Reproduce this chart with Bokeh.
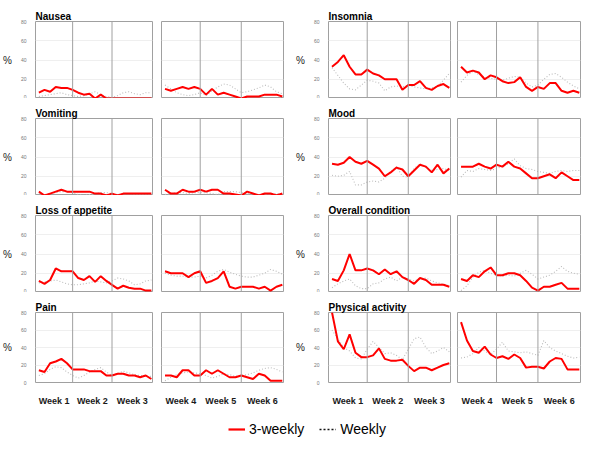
from bokeh.plotting import figure
from bokeh.layouts import row, column
from bokeh.models import Range1d, FixedTicker, Span, Legend, LegendItem
from bokeh.embed import file_html
from bokeh.resources import INLINE

# ---------------- data ----------------
days_a = list(range(1, 22))      # weeks 1-3 (daily points)
days_b = list(range(22, 43))     # weeks 4-6
week_bounds_a = [7, 14]
week_bounds_b = [28, 35]
week_labels_a = ["Week 1", "Week 2", "Week 3"]
week_labels_b = ["Week 4", "Week 5", "Week 6"]
y_ticks = [0, 20, 40, 60, 80]
series_names = ["3-weekly", "Weekly"]

nausea_3weekly = [6, 9, 7, 12, 11, 11, 9, 6, 4, 5, 0, 4, 0, 0, 0, 0, 0, 0, 0, 0, 0,
                  10, 8, 10, 12, 10, 12, 10, 4, 10, 4, 6, 4, 2, 0, 2, 2, 2, 4, 4, 4, 2]
nausea_weekly = [2, 3, 4, 5, 6, 4, 3, 2, 3, 5, 7, 4, 2, 1, 3, 6, 7, 5, 4, 6, 6,
                 14, 10, 6, 4, 3, 4, 6, 3, 8, 12, 15, 14, 10, 6, 7, 9, 11, 14, 12, 7, 5]

insomnia_3weekly = [33, 38, 45, 33, 25, 25, 30, 26, 24, 20, 20, 20, 9, 14, 14, 18, 11, 9, 13, 15, 11,
                    33, 27, 29, 27, 20, 24, 22, 18, 16, 17, 22, 12, 8, 12, 10, 16, 16, 8, 6, 8, 6]
insomnia_weekly = [32, 24, 16, 10, 9, 14, 19, 18, 16, 8, 12, 13, 12, 14, 12, 11, 10, 11, 13, 19, 26,
                   17, 24, 28, 25, 22, 21, 20, 19, 21, 23, 22, 16, 12, 14, 20, 25, 26, 22, 17, 13, 10]

vomiting_3weekly = [4, 0, 2, 4, 6, 4, 4, 4, 4, 4, 2, 2, 0, 2, 0, 2, 2, 2, 2, 2, 2,
                    6, 2, 2, 6, 4, 4, 6, 4, 6, 6, 2, 2, 1, 0, 4, 2, 0, 2, 2, 0, 2]
vomiting_weekly = [2, 1, 2, 3, 4, 4, 3, 1, 0, 1, 2, 3, 3, 2, 1, 2, 2, 1, 1, 1, 1,
                   1, 2, 3, 3, 2, 3, 3, 3, 2, 1, 4, 4, 4, 3, 2, 2, 1, 1, 2, 2, 2]

mood_3weekly = [33, 32, 34, 40, 35, 33, 36, 32, 28, 20, 24, 29, 27, 20, 26, 32, 30, 24, 32, 23, 28,
                30, 30, 30, 33, 30, 28, 32, 30, 35, 30, 28, 23, 18, 18, 20, 22, 18, 24, 20, 16, 16]
mood_weekly = [21, 20, 21, 25, 11, 11, 14, 15, 14, 18, 25, 30, 20, 19, 28, 33, 29, 26, 27, 28, 26,
               19, 26, 25, 28, 27, 26, 28, 30, 33, 38, 31, 28, 27, 25, 24, 23, 25, 26, 25, 26, 26]

appetite_3weekly = [12, 9, 13, 25, 22, 22, 22, 15, 13, 17, 11, 17, 12, 8, 4, 7, 5, 4, 4, 2, 2,
                    22, 20, 20, 20, 16, 20, 22, 10, 12, 15, 22, 6, 4, 6, 6, 6, 4, 6, 2, 6, 8]
appetite_weekly = [10, 11, 12, 13, 11, 9, 8, 8, 9, 10, 12, 11, 10, 12, 15, 14, 12, 8, 9, 12, 13,
                   20, 18, 17, 17, 16, 16, 17, 15, 18, 22, 24, 21, 19, 17, 16, 16, 18, 20, 24, 22, 19]

overall_3weekly = [14, 12, 23, 40, 23, 23, 25, 23, 19, 24, 19, 22, 16, 13, 9, 15, 13, 8, 8, 8, 6,
                   14, 12, 18, 16, 22, 26, 18, 18, 20, 20, 18, 12, 5, 2, 6, 6, 8, 10, 4, 4, 4]
overall_weekly = [5, 9, 12, 14, 7, 4, 4, 9, 10, 14, 16, 12, 16, 14, 12, 14, 15, 12, 10, 9, 7,
                  2, 7, 16, 21, 23, 20, 18, 17, 18, 17, 20, 23, 19, 14, 16, 18, 22, 27, 22, 20, 19]

pain_3weekly = [14, 12, 22, 24, 27, 22, 15, 15, 15, 13, 13, 13, 8, 8, 10, 10, 8, 8, 6, 8, 4,
                8, 8, 6, 14, 14, 8, 8, 14, 10, 14, 10, 6, 6, 8, 6, 4, 10, 8, 2, 2, 2]
pain_weekly = [8, 10, 15, 18, 17, 12, 8, 5, 8, 12, 15, 17, 12, 8, 10, 13, 11, 9, 8, 7, 7,
               2, 6, 9, 11, 12, 11, 10, 8, 5, 7, 10, 9, 7, 8, 9, 11, 14, 16, 17, 15, 12]

physical_3weekly = [80, 47, 38, 55, 34, 29, 29, 31, 39, 27, 25, 25, 26, 19, 13, 17, 17, 14, 17, 20, 22,
                    69, 48, 36, 34, 41, 32, 28, 30, 27, 32, 28, 17, 18, 18, 16, 24, 28, 27, 15, 15, 15]
physical_weekly = [60, 50, 40, 36, 28, 27, 38, 47, 40, 33, 34, 31, 26, 38, 50, 52, 40, 33, 36, 40, 35,
                   28, 29, 33, 40, 36, 32, 38, 46, 36, 35, 34, 35, 33, 31, 48, 40, 36, 33, 30, 28, 29]

grid_rows = [
    [("Nausea", nausea_3weekly, nausea_weekly), ("Insomnia", insomnia_3weekly, insomnia_weekly)],
    [("Vomiting", vomiting_3weekly, vomiting_weekly), ("Mood", mood_3weekly, mood_weekly)],
    [("Loss of appetite", appetite_3weekly, appetite_weekly), ("Overall condition", overall_3weekly, overall_weekly)],
    [("Pain", pain_3weekly, pain_weekly), ("Physical activity", physical_3weekly, physical_weekly)],
]

# ---------------- styling ----------------
FONT = "Liberation Sans"
RED = "#ff0000"
GREY_DOT = "#bcbcbc"
FRAME = "#a0a0a0"


def sub_panel(title, y3, yw, days, bounds, labels, show_y, show_x, bl, br, bt, bb, width, height):
    x0, x1 = days[0] - 0.6, days[-1] + 0.2
    p = figure(width=width, height=height, title=title,
               x_range=Range1d(x0, x1), y_range=Range1d(0, 80),
               output_backend="svg", toolbar_location=None,
               min_border_left=bl, min_border_right=br,
               min_border_top=bt, min_border_bottom=bb)
    p.background_fill_color = "white"
    p.border_fill_color = "white"
    p.outline_line_color = FRAME
    p.outline_line_width = 1
    if title:
        p.title.text_font = FONT
        p.title.text_font_size = "10px"
        p.title.text_font_style = "bold"
        p.title.text_color = "#000000"
        p.title.standoff = 0
        p.title.offset = 0
    p.xgrid.visible = False
    p.ygrid.ticker = FixedTicker(ticks=y_ticks)
    p.ygrid.grid_line_color = "#efefef"
    p.ygrid.grid_line_width = 1

    ya = p.yaxis[0]
    ya.ticker = FixedTicker(ticks=y_ticks)
    if show_y:
        ya.major_label_text_font = FONT
        ya.major_label_text_font_size = "5px"
        ya.major_label_text_color = "#777777"
        ya.major_tick_line_color = None
        ya.minor_tick_line_color = None
        ya.axis_line_color = None
        ya.major_label_standoff = 3
        ya.axis_label = "%"
        ya.axis_label_text_font = FONT
        ya.axis_label_text_font_size = "10px"
        ya.axis_label_text_font_style = "normal"
        ya.axis_label_text_color = "#222222"
        ya.axis_label_orientation = "horizontal"
        ya.axis_label_standoff = 6
    else:
        ya.visible = False

    xa = p.xaxis[0]
    if show_x:
        edges = [x0] + bounds + [x1]
        centers = [round((edges[i] + edges[i + 1]) / 2, 2) for i in range(len(labels))]
        xa.ticker = FixedTicker(ticks=centers)
        xa.major_label_overrides = {c: lab for c, lab in zip(centers, labels)}
        xa.major_label_text_font = FONT
        xa.major_label_text_font_size = "9px"
        xa.major_label_text_font_style = "bold"
        xa.major_label_text_color = "#1a1a1a"
        xa.major_tick_line_color = None
        xa.minor_tick_line_color = None
        xa.axis_line_color = None
        xa.major_label_standoff = 7
    else:
        xa.visible = False

    for b in bounds:
        p.add_layout(Span(location=b, dimension="height", line_color=FRAME, line_width=1))

    p.line(days, yw, line_color=GREY_DOT, line_width=1.1, line_dash="1 2")
    p.line(days, y3, line_color=RED, line_width=2)
    return p


row_tops = [21, 20, 20, 20]
row_bottoms = [0, 0, 0, 19]
FRAME_H = 77
# (border_left, frame_width, border_right) for the four sub-panels of a row
cols = [(30, 122, 4), (5, 122, 10), (34, 123, 3), (4, 123, 4)]

rows_out = []
for ri, pair in enumerate(grid_rows):
    bt, bb = row_tops[ri], row_bottoms[ri]
    h = bt + FRAME_H + bb
    last = ri == len(grid_rows) - 1
    figs = []
    for ci, (name, s3, sw) in enumerate(pair):
        for half in range(2):
            bl, fw, br = cols[ci * 2 + half]
            if half == 0:
                days, bounds, labels = days_a, week_bounds_a, week_labels_a
                y3, yw = s3[:21], sw[:21]
            else:
                days, bounds, labels = days_b, week_bounds_b, week_labels_b
                y3, yw = s3[21:], sw[21:]
            figs.append(sub_panel(name if half == 0 else None, y3, yw, days, bounds, labels,
                                  half == 0, last, bl, br, bt, bb, bl + fw + br, h))
    rows_out.append(row(*figs))

# legend strip (its two sample lines sit outside the visible range; only the legend shows)
total_w = sum(a + b + c for a, b, c in cols)
lg = figure(width=total_w, height=34, x_range=Range1d(0, 1), y_range=Range1d(0, 1),
            output_backend="svg", toolbar_location=None,
            min_border_left=0, min_border_right=0, min_border_top=0, min_border_bottom=0)
lg.axis.visible = False
lg.grid.visible = False
lg.outline_line_color = None
r1 = lg.line(x=[5, 6], y=[5, 5], line_color=RED, line_width=2.2)
r2 = lg.line(x=[5, 6], y=[6, 6], line_color="#111111", line_width=1.5, line_dash="2 2")
legend = Legend(items=[LegendItem(label=series_names[0], renderers=[r1]),
                       LegendItem(label=series_names[1], renderers=[r2])],
                orientation="horizontal", location=(228, 5),
                glyph_width=17, glyph_height=12, label_height=12,
                label_standoff=4, spacing=15, padding=0, margin=0,
                label_text_font=FONT, label_text_font_size="14px",
                label_text_color="#000000",
                border_line_color=None, background_fill_alpha=0)
lg.add_layout(legend)

layout = column(*rows_out, lg)
open("out.html", "w").write(file_html(layout, INLINE))
